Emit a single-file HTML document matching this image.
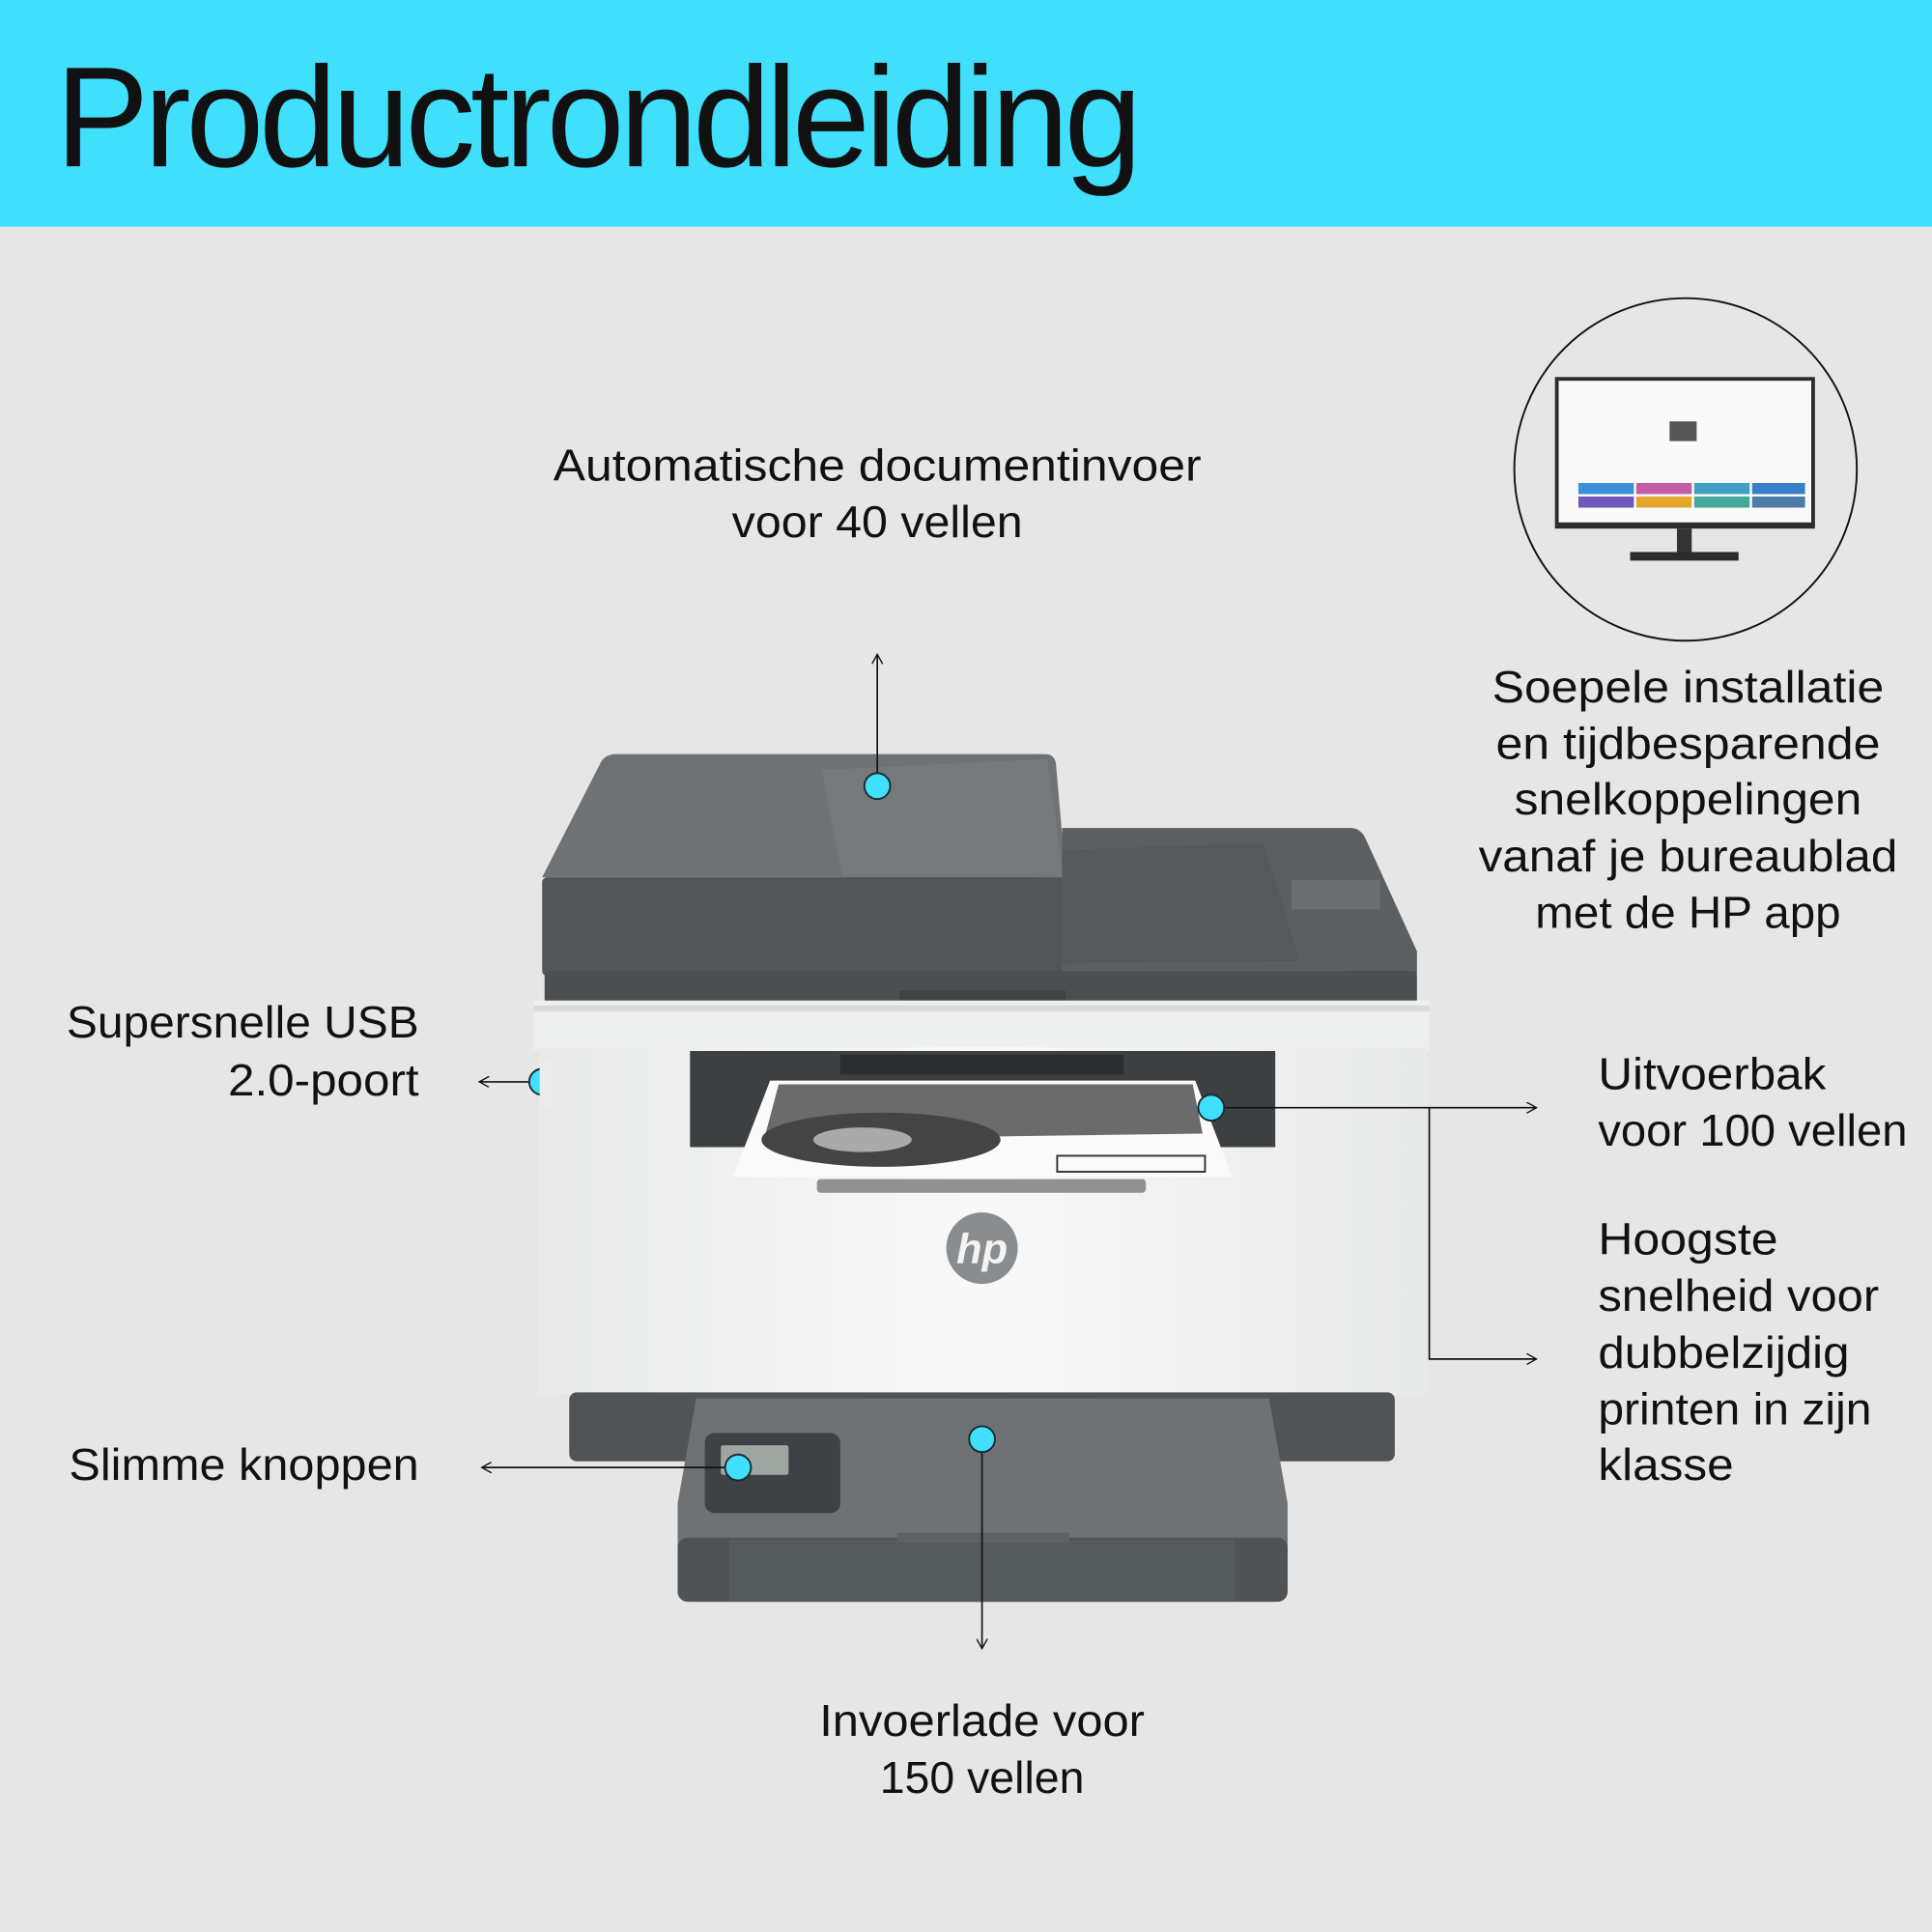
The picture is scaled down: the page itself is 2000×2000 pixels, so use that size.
<!DOCTYPE html>
<html><head><meta charset="utf-8"><style>
html,body{margin:0;padding:0;background:#e6e6e6;}
svg{display:block;}
text{font-family:"Liberation Sans",sans-serif;fill:#111;}
</style></head><body>
<svg width="2000" height="2000" viewBox="0 0 1568 1568" xmlns="http://www.w3.org/2000/svg">
<defs>
<linearGradient id="body" x1="0" y1="0" x2="1" y2="0">
<stop offset="0" stop-color="#e9eaea"/><stop offset="0.5" stop-color="#f8f8f8"/><stop offset="1" stop-color="#e8e9e9"/>
</linearGradient>
<marker id="ar" viewBox="0 0 10 10" refX="9" refY="5" markerWidth="9" markerHeight="9" orient="auto-start-reverse" markerUnits="userSpaceOnUse">
<path d="M0,0 L9,5 L0,10" fill="none" stroke="#111" stroke-width="1.2"/>
</marker>
</defs>
<rect width="1568" height="1568" fill="#e6e6e6"/>
<rect width="1568" height="184" fill="#40dffc"/>
<text x="45" y="135" font-size="116" textLength="878" lengthAdjust="spacingAndGlyphs" letter-spacing="-4">Productrondleiding</text>

<!-- monitor circle -->
<circle cx="1368" cy="381" r="139" fill="#e6e6e6" stroke="#111" stroke-width="1.5"/>
<rect x="1262" y="306" width="211" height="123" fill="#2a2c2e"/>
<rect x="1265" y="309" width="205" height="115" fill="#fafafa"/>
<rect x="1361" y="429" width="12" height="20" fill="#333"/>
<rect x="1323" y="448" width="88" height="7" fill="#2a2c2e"/>
<rect x="1355" y="342" width="22" height="16" fill="#555"/>
<rect x="1281" y="392" width="45" height="9" fill="#3d8fd8"/><rect x="1328" y="392" width="45" height="9" fill="#c35ea6"/><rect x="1375" y="392" width="45" height="9" fill="#3f9fc4"/><rect x="1422" y="392" width="43" height="9" fill="#3a7fc9"/>
<rect x="1281" y="403" width="45" height="9" fill="#7057b8"/><rect x="1328" y="403" width="45" height="9" fill="#e6a52c"/><rect x="1375" y="403" width="45" height="9" fill="#45a89a"/><rect x="1422" y="403" width="43" height="9" fill="#4d7ca8"/>

<!-- printer -->
<!-- ADF -->
<path d="M440,712 L488,618 Q492,612 500,612 L848,612 Q856,612 857,620 L865,712 Z" fill="#6f7275"/>
<path d="M667,625 L850,616 L863,712 L684,714 Z" fill="#76797c"/>
<rect x="440" y="712" width="425" height="80" rx="4" fill="#515558"/>
<!-- scanner lid -->
<path d="M862,672 L1096,672 Q1104,672 1108,680 L1150,772 L1150,790 L862,790 Z" fill="#5b5f62"/>
<path d="M1025,684 L1055,780 L862,782 L862,690 Z" fill="#56595c"/>
<rect x="1048" y="714" width="72" height="24" fill="#6a6e71"/>
<rect x="442" y="788" width="708" height="26" rx="3" fill="#4b4f52"/>
<rect x="730" y="804" width="135" height="8" fill="#3f4346"/>
<!-- white strip -->
<rect x="433" y="812" width="727" height="40" fill="#eeefef"/>
<rect x="433" y="816" width="727" height="5" fill="#d8d9d9"/>
<!-- body -->
<rect x="437" y="850" width="721" height="282" fill="url(#body)"/>
<rect x="560" y="853" width="475" height="78" fill="#3d4043"/>
<rect x="682" y="856" width="230" height="16" fill="#2b2d2f"/>
<path d="M625,877 L970,877 L1000,955 L595,955 Z" fill="#fbfbfb"/>
<path d="M632,880 L968,880 L976,920 L620,925 Z" fill="#6b6b6b"/>
<ellipse cx="715" cy="925" rx="97" ry="22" fill="#444"/>
<ellipse cx="700" cy="925" rx="40" ry="10" fill="#aaa"/>
<rect x="858" y="938" width="120" height="13" fill="none" stroke="#333" stroke-width="1.5"/>
<rect x="663" y="957" width="267" height="11" rx="3" fill="#8e9193"/>
<!-- hp logo -->
<circle cx="797" cy="1013" r="29" fill="#8a8d90"/>
<text x="797" y="1025" font-size="34" font-style="italic" font-weight="bold" text-anchor="middle" style="fill:#f4f4f4">hp</text>
<!-- bottom band -->
<rect x="462" y="1130" width="670" height="56" rx="6" fill="#505457"/>
<!-- tray -->
<path d="M565,1135 L1030,1135 L1045,1220 L1045,1290 Q1045,1300 1035,1300 L560,1300 Q550,1300 550,1290 L550,1220 Z" fill="#6f7275"/>
<rect x="550" y="1248" width="495" height="52" rx="8" fill="#4f5356"/>
<rect x="592" y="1250" width="410" height="50" fill="#555a5d"/>
<rect x="728" y="1244" width="140" height="8" fill="#5e6265"/>
<rect x="572" y="1163" width="110" height="65" rx="8" fill="#3e4245"/>
<rect x="585" y="1173" width="55" height="24" rx="2" fill="#9fa5a1"/>

<!-- connectors -->
<g stroke="#111" stroke-width="1.3" fill="none">
<line x1="712" y1="638" x2="712" y2="531" marker-end="url(#ar)"/>
<line x1="432" y1="878" x2="389" y2="878" marker-end="url(#ar)"/>
<line x1="983" y1="899" x2="1247" y2="899" marker-end="url(#ar)"/>
<polyline points="1160,899 1160,1103 1247,1103" marker-end="url(#ar)"/>
<line x1="599" y1="1191" x2="391" y2="1191" marker-end="url(#ar)"/>
<line x1="797" y1="1168" x2="797" y2="1338" marker-end="url(#ar)"/>
</g>
<g fill="#40dffc" stroke="#1a2a30" stroke-width="1.5">
<circle cx="712" cy="638" r="10.5"/>
<circle cx="440" cy="878" r="10.5"/>
<circle cx="983" cy="899" r="10.5"/>
<circle cx="599" cy="1191" r="10.5"/>
<circle cx="797" cy="1168" r="10.5"/>
</g>
<rect x="438" y="860" width="14" height="40" fill="#ececec"/>

<!-- labels -->
<g font-size="36">
<text x="712" y="390" text-anchor="middle" textLength="526" lengthAdjust="spacingAndGlyphs">Automatische documentinvoer</text>
<text x="712" y="436" text-anchor="middle" textLength="236" lengthAdjust="spacingAndGlyphs">voor 40 vellen</text>
<text x="1370" y="570" text-anchor="middle" textLength="318" lengthAdjust="spacingAndGlyphs">Soepele installatie</text>
<text x="1370" y="616" text-anchor="middle" textLength="312" lengthAdjust="spacingAndGlyphs">en tijdbesparende</text>
<text x="1370" y="661" text-anchor="middle" textLength="282" lengthAdjust="spacingAndGlyphs">snelkoppelingen</text>
<text x="1370" y="707" text-anchor="middle" textLength="340" lengthAdjust="spacingAndGlyphs">vanaf je bureaublad</text>
<text x="1370" y="753" text-anchor="middle" textLength="248" lengthAdjust="spacingAndGlyphs">met de HP app</text>
<text x="340" y="842" text-anchor="end" textLength="286" lengthAdjust="spacingAndGlyphs">Supersnelle USB</text>
<text x="340" y="889" text-anchor="end" textLength="155" lengthAdjust="spacingAndGlyphs">2.0-poort</text>
<text x="1297" y="884" textLength="185" lengthAdjust="spacingAndGlyphs">Uitvoerbak</text>
<text x="1297" y="930" textLength="251" lengthAdjust="spacingAndGlyphs">voor 100 vellen</text>
<text x="1297" y="1018" textLength="146" lengthAdjust="spacingAndGlyphs">Hoogste</text>
<text x="1297" y="1064" textLength="228" lengthAdjust="spacingAndGlyphs">snelheid voor</text>
<text x="1297" y="1110" textLength="204" lengthAdjust="spacingAndGlyphs">dubbelzijdig</text>
<text x="1297" y="1156" textLength="222" lengthAdjust="spacingAndGlyphs">printen in zijn</text>
<text x="1297" y="1201" textLength="110" lengthAdjust="spacingAndGlyphs">klasse</text>
<text x="340" y="1201" text-anchor="end" textLength="284" lengthAdjust="spacingAndGlyphs">Slimme knoppen</text>
<text x="797" y="1409" text-anchor="middle" textLength="264" lengthAdjust="spacingAndGlyphs">Invoerlade voor</text>
<text x="797" y="1455" text-anchor="middle" textLength="166" lengthAdjust="spacingAndGlyphs">150 vellen</text>
</g>
</svg>
</body></html>
